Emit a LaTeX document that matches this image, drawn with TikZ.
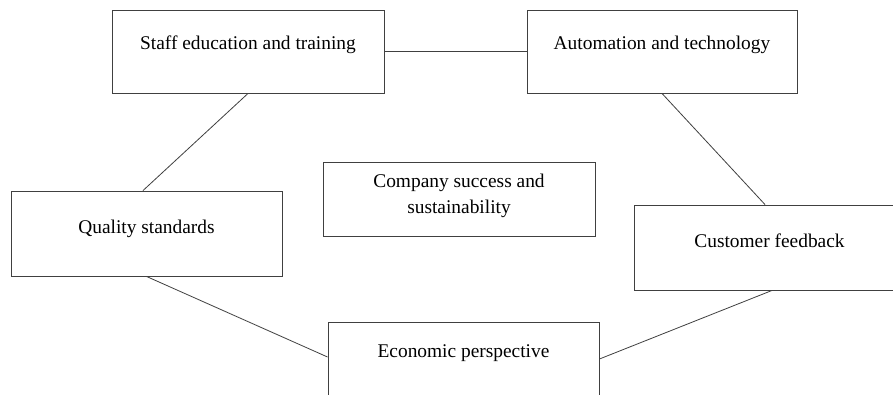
\documentclass[tikz,border=0pt]{standalone}
\usepackage{fontspec}
\setmainfont{Liberation Serif}
\usetikzlibrary{calc}
\begin{document}
\begin{tikzpicture}[x=1pt,y=-1pt,
  box/.style={draw=black!75, line width=0.9pt, fill=white, rectangle, inner sep=0pt},
  lbl/.style={anchor=base, inner sep=0pt, align=center, font=\fontsize{19.4}{25.6}\selectfont},
  link/.style={draw=black!75, line width=0.8pt}]
  % page frame
  \clip (0,0) rectangle (893,394);
  \fill[white] (0,0) rectangle (893,394);

  % boxes
  \node[box, minimum width=272pt, minimum height=83pt] (staff)    at (248,51.5)    {};
  \node[box, minimum width=270pt, minimum height=83pt] (auto)     at (662,51.5)    {};
  \node[box, minimum width=272pt, minimum height=74pt] (company)  at (459,199)     {};
  \node[box, minimum width=271pt, minimum height=85pt] (quality)  at (146.5,233.5) {};
  \node[box, minimum width=271pt, minimum height=85pt] (customer) at (769.5,247.5) {};
  \node[box, minimum width=271pt, minimum height=85pt] (economic) at (463.5,364.5) {};

  % labels (base anchor of the two-line label is its last line)
  \node[lbl] (stafft)    at (248,49.5)    {Staff education and training};
  \node[lbl] (autot)     at (662,49.5)    {Automation and technology};
  \node[lbl] (companyt)  at (459,213.3)   {Company success and\\sustainability};
  \node[lbl] (qualityt)  at (146.5,233.3) {Quality standards};
  \node[lbl] (customert) at (769.5,247.3) {Customer feedback};
  \node[lbl] (economict) at (463.5,357)   {Economic perspective};

  % connectors
  \draw[link] (staff.east) -- (auto.west);
  \draw[link] (staff.south) -- ($(quality.north)+(-3.5,0)$);
  \draw[link] (auto.south) -- ($(customer.north)+(-4.5,0)$);
  \draw[link] (quality.south) -- ($(economic.west)+(0,-7.5)$);
  \draw[link] ($(economic.east)+(0,-5.5)$) -- ($(customer.south)+(2.5,0)$);
\end{tikzpicture}
\end{document}
